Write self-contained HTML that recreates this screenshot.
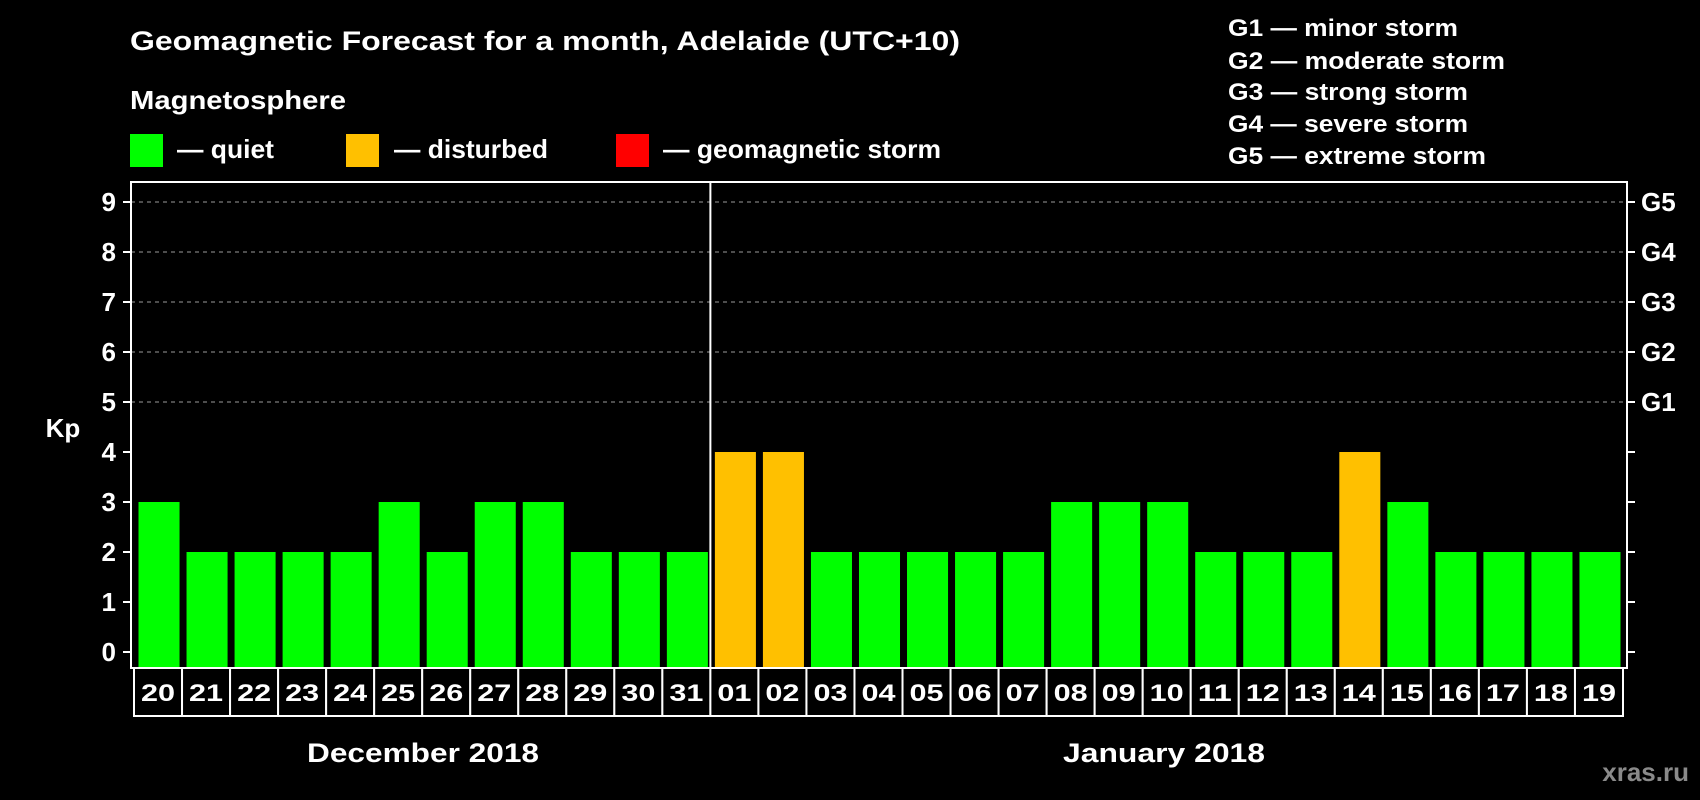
<!DOCTYPE html>
<html><head><meta charset="utf-8"><style>
html,body{margin:0;padding:0;background:#000;}
svg{display:block;font-family:"Liberation Sans",sans-serif;font-weight:bold;}
</style></head><body>
<svg id="chart" width="1700" height="800" viewBox="0 0 1700 800" xmlns="http://www.w3.org/2000/svg">
<rect width="1700" height="800" fill="#000"/>
<text x="130" y="50" font-size="27" fill="#fff" textLength="830" lengthAdjust="spacingAndGlyphs">Geomagnetic Forecast for a month, Adelaide (UTC+10)</text>
<text x="130" y="109" font-size="26" fill="#fff" textLength="216" lengthAdjust="spacingAndGlyphs">Magnetosphere</text>
<g><rect x="130" y="134" width="33" height="33" fill="#00ff00"/><text x="177" y="158" font-size="26" fill="#fff" textLength="97" lengthAdjust="spacingAndGlyphs">— quiet</text></g>
<g><rect x="346" y="134" width="33" height="33" fill="#ffc000"/><text x="394" y="158" font-size="26" fill="#fff" textLength="154" lengthAdjust="spacingAndGlyphs">— disturbed</text></g>
<g><rect x="616" y="134" width="33" height="33" fill="#ff0000"/><text x="663" y="158" font-size="26" fill="#fff" textLength="278" lengthAdjust="spacingAndGlyphs">— geomagnetic storm</text></g>
<g font-size="24" fill="#fff">
<text x="1228" y="36" textLength="230" lengthAdjust="spacingAndGlyphs">G1 — minor storm</text>
<text x="1228" y="69" textLength="277" lengthAdjust="spacingAndGlyphs">G2 — moderate storm</text>
<text x="1228" y="100" textLength="240" lengthAdjust="spacingAndGlyphs">G3 — strong storm</text>
<text x="1228" y="132" textLength="240" lengthAdjust="spacingAndGlyphs">G4 — severe storm</text>
<text x="1228" y="164" textLength="258" lengthAdjust="spacingAndGlyphs">G5 — extreme storm</text>
</g>
<text x="63" y="437" font-size="26" fill="#fff" text-anchor="middle">Kp</text>
<g id="plot"></g>
<text x="423" y="762" font-size="27" fill="#fff" text-anchor="middle" textLength="232" lengthAdjust="spacingAndGlyphs">December 2018</text>
<text x="1164" y="762" font-size="27" fill="#fff" text-anchor="middle" textLength="202" lengthAdjust="spacingAndGlyphs">January 2018</text>
<text x="1689" y="781" font-size="26" fill="#8a8a8a" text-anchor="end">xras.ru</text>
</svg>
<script>
const days = ["20","21","22","23","24","25","26","27","28","29","30","31","01","02","03","04","05","06","07","08","09","10","11","12","13","14","15","16","17","18","19"];
const kpValues = [3,2,2,2,2,3,2,3,3,2,2,2,4,4,2,2,2,2,2,3,3,3,2,2,2,4,3,2,2,2,2];
const yTicks = [0,1,2,3,4,5,6,7,8,9];
const gLabels = ["G1","G2","G3","G4","G5"];
const gLevels = [5,6,7,8,9];

const NS = "http://www.w3.org/2000/svg";
const L = 131, R = 1627, T = 182, B = 668;
const x0 = 134, pitch = (1623 - 134) / days.length;
function yScale(v){ return 652 - v * 50; }
function xScale(i){ return x0 + i * pitch; }
function barColor(v){ return v >= 5 ? "#ff0000" : (v >= 4 ? "#ffc000" : "#00ff00"); }
function mk(tag, attrs){ const e = document.createElementNS(NS, tag); for (const k in attrs) e.setAttribute(k, attrs[k]); return e; }
const g = document.getElementById("plot");

yTicks.forEach(v => {
  const y = yScale(v);
  if (v >= 5) {
    const gl = mk("line", {x1:L, x2:R, y1:y, y2:y, stroke:"#9a9a9a", "stroke-width":1, "stroke-dasharray":"4,4"});
    
    
    g.appendChild(gl);
  }
  const t1 = mk("line", {x1:L-8, x2:L, y1:y, y2:y, stroke:"#fff", "stroke-width":2});
  
  
  g.appendChild(t1);
  const t2 = mk("line", {x1:R, x2:R+8, y1:y, y2:y, stroke:"#fff", "stroke-width":2});
  
  
  g.appendChild(t2);
  const lb = mk("text", {x:116, y:y+9, "font-size":26, fill:"#fff", "text-anchor":"end"});
  lb.textContent = v;
  
  
  g.appendChild(lb);
});
gLabels.forEach((s, i) => {
  const lb = mk("text", {x:1641, y:yScale(gLevels[i])+9, "font-size":26, fill:"#fff"});
  lb.textContent = s;
  
  
  g.appendChild(lb);
});
kpValues.forEach((v, i) => {
  const bx = xScale(i) + 4.5;
  const b = mk("rect", {x:bx, y:yScale(v), width:pitch - 7, height:B - yScale(v), fill:barColor(v)});
  
  
  g.appendChild(b);
});
const frame = mk("rect", {x:L, y:T, width:R-L, height:B-T, fill:"none", stroke:"#fff", "stroke-width":2});


g.appendChild(frame);
const div = mk("line", {x1:xScale(12), x2:xScale(12), y1:T, y2:B, stroke:"#fff", "stroke-width":2});


g.appendChild(div);
days.forEach((d, i) => {
  const bx = mk("rect", {x:xScale(i), y:B, width:pitch, height:48, fill:"#000", stroke:"#fff", "stroke-width":2});
  
  
  g.appendChild(bx);
  const t = mk("text", {x:xScale(i)+pitch/2, y:B+33, "font-size":24, fill:"#fff", "text-anchor":"middle", textLength:34, lengthAdjust:"spacingAndGlyphs"});
  t.textContent = d;
  
  
  g.appendChild(t);
});
</script>
</body></html>
